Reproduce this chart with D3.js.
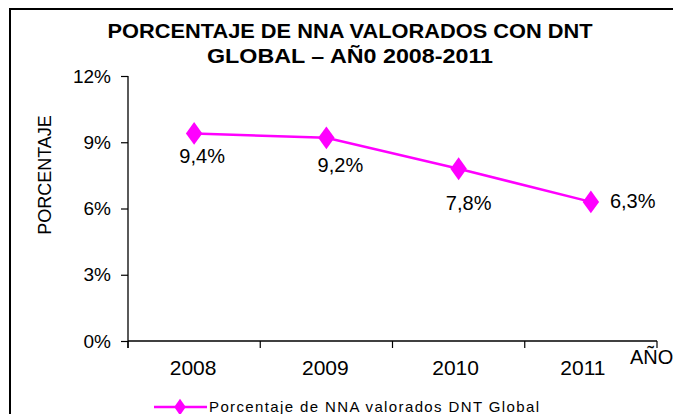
<!DOCTYPE html>
<html>
<head>
<meta charset="utf-8">
<script src="https://cdn.jsdelivr.net/npm/d3@7/dist/d3.min.js"></script>
<style>
  html, body { margin: 0; padding: 0; background: #fff; }
  svg { display: block; font-family: "Liberation Sans", Arial, sans-serif; }
</style>
</head>
<body>
<svg id="chart" width="673" height="414"></svg>
<script>
// Data
const years = ["2008", "2009", "2010", "2011"];
const values = [9.4, 9.2, 7.8, 6.3];
const valueLabels = ["9,4%", "9,2%", "7,8%", "6,3%"];
const yTicks = [0, 3, 6, 9, 12];
const titleLines = ["PORCENTAJE DE NNA VALORADOS CON DNT", "GLOBAL \u2013 AÑ0 2008-2011"];
const seriesName = "Porcentaje de NNA valorados DNT Global";

const color = "#FF00FF";
const font = "Liberation Sans, Arial, sans-serif";
const svg = d3.select("#chart");

// Outer chart frame
svg.append("rect")
  .attr("x", 10).attr("y", 9)
  .attr("width", 700).attr("height", 430)
  .attr("fill", "none").attr("stroke", "#000").attr("stroke-width", 2);

// Title
const titleWidths = [485, 286];
titleLines.forEach((t, i) => {
  svg.append("text")
    .attr("x", 350).attr("y", 38 + i * 25)
    .attr("text-anchor", "middle")
    .attr("font-size", 21).attr("font-weight", "bold")
    .attr("textLength", titleWidths[i]).attr("lengthAdjust", "spacingAndGlyphs")
    .text(t);
});

// Scales
const x = d3.scaleBand().domain(years).range([128, 657]);
const y = d3.scaleLinear().domain([0, 12]).range([341, 76]);

// Y axis
const yAxis = svg.append("g").attr("transform", "translate(128,0)")
  .call(d3.axisLeft(y).tickValues(yTicks).tickSize(7).tickPadding(10)
    .tickFormat(d => d + "%"));
yAxis.select(".domain").attr("d", `M0,${y(12)}V${y(0) + 7}`).attr("stroke-width", 1.3);
yAxis.selectAll(".tick line").attr("stroke-width", 1.2);
yAxis.selectAll(".tick text").attr("font-size", 19).attr("fill", "#000")
  .attr("font-family", font);

// X axis with category boundary ticks
const xg = svg.append("g");
xg.append("line").attr("x1", 128).attr("x2", 657)
  .attr("y1", y(0)).attr("y2", y(0)).attr("stroke", "#000").attr("stroke-width", 1.3);
const bounds = years.map(d => x(d)).concat([x(years[years.length - 1]) + x.bandwidth()]);
xg.selectAll("line.bt").data(bounds).enter().append("line")
  .attr("class", "bt")
  .attr("x1", d => d).attr("x2", d => d)
  .attr("y1", y(0)).attr("y2", y(0) + 7)
  .attr("stroke", "#000").attr("stroke-width", 1.2);
const yearShift = [-1, -1, -3, -8];
xg.selectAll("text.yr").data(years).enter().append("text")
  .attr("class", "yr")
  .attr("x", (d, i) => x(d) + x.bandwidth() / 2 + yearShift[i])
  .attr("y", y(0) + 34)
  .attr("text-anchor", "middle").attr("font-size", 21)
  .text(d => d);

// Axis titles
svg.append("text")
  .attr("x", 630).attr("y", 364)
  .attr("font-size", 20)
  .text("AÑO");
svg.append("text")
  .attr("transform", "translate(51,175) rotate(-90)")
  .attr("text-anchor", "middle").attr("font-size", 18)
  .text("PORCENTAJE");

// Line + markers
const cx = d => x(d) + x.bandwidth() / 2;
const pts = years.map((d, i) => [cx(d), y(values[i])]);
svg.append("path")
  .attr("d", d3.line()(pts))
  .attr("fill", "none").attr("stroke", color).attr("stroke-width", 2.5);
const diamond = d3.symbol().type(d3.symbolDiamond).size(150);
svg.selectAll("path.mk").data(pts).enter().append("path")
  .attr("class", "mk")
  .attr("transform", d => `translate(${d[0]},${d[1]}) scale(1.25,1)`)
  .attr("d", diamond).attr("fill", color);

// Value labels
const labelOffsets = [[8, 30], [14, 34], [10, 41], [19, 6]];
const labelAnchor = ["middle", "middle", "middle", "start"];
svg.selectAll("text.vl").data(valueLabels).enter().append("text")
  .attr("class", "vl")
  .attr("x", (d, i) => pts[i][0] + labelOffsets[i][0])
  .attr("y", (d, i) => pts[i][1] + labelOffsets[i][1])
  .attr("text-anchor", (d, i) => labelAnchor[i])
  .attr("font-size", 20)
  .text(d => d);

// Legend
const lg = svg.append("g");
lg.append("line").attr("x1", 154).attr("x2", 207).attr("y1", 407).attr("y2", 407)
  .attr("stroke", color).attr("stroke-width", 2.5);
lg.append("path").attr("transform", "translate(180,407) scale(1.2,1)")
  .attr("d", d3.symbol().type(d3.symbolDiamond).size(80)).attr("fill", color);
lg.append("text").attr("x", 209).attr("y", 412)
  .attr("font-size", 15)
  .attr("textLength", 330).attr("lengthAdjust", "spacing")
  .text(seriesName);
</script>
</body>
</html>
